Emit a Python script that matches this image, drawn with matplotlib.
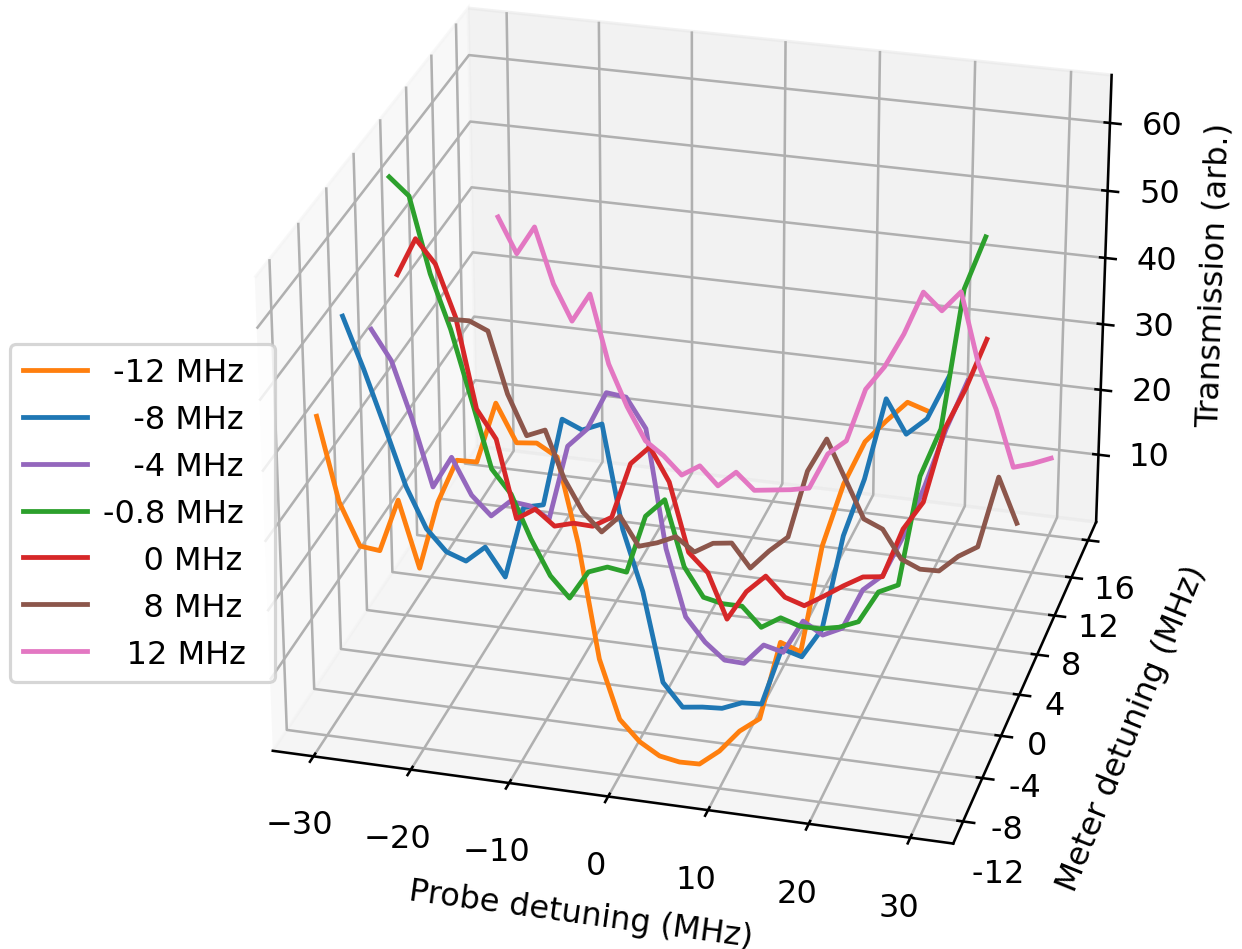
import numpy as np
import matplotlib
matplotlib.use('Agg')
import matplotlib.pyplot as plt

probe = np.arange(-30, 31, 2)

# transmission at each meter detuning
t_m12 = [45.8,34.0,28.0,27.7,35.3,25.9,35.7,42.0,42.1,50.7,45.5,45.8,44.2,32.3,16.1,7.7,4.8,3.1,2.6,2.7,5.0,8.3,10.5,21.9,20.9,36.3,45.3,51.5,54.7,57.6,56.7]
t_m8 = [54.6,47.4,39.5,31.3,25.5,22.5,21.5,23.9,19.9,30.4,31.1,43.7,42.5,43.7,29.0,20.3,7.4,4.1,4.5,4.7,5.9,6.1,14.6,13.8,18.2,32.0,40.4,52.0,47.4,49.9,56.0]
t_m4 = [47.5,43.3,35.2,25.6,30.3,25.1,22.4,24.9,24.6,23.0,34.0,36.8,42.4,42.1,37.9,20.8,11.1,7.7,5.4,5.3,8.4,7.7,12.7,11.0,12.4,18.4,20.9,27.0,34.5,43.0,50.1]
t_m08 = [65.2,62.8,52.0,44.3,34.5,24.5,21.1,14.8,9.6,6.6,10.9,12.0,11.6,20.3,23.1,13.5,9.3,8.7,8.7,5.9,7.7,6.8,6.8,7.4,8.6,13.4,14.8,31.1,38.3,58.5,66.1]
t_0 = [50.2,55.7,52.4,45.0,31.9,27.8,16.3,18.1,15.9,16.7,16.6,18.3,26.6,29.4,24.6,14.5,11.8,5.2,9.7,12.4,9.6,8.7,10.5,12.4,14.1,14.5,21.9,26.2,37.2,43.3,50.7]
t_8 = [33.3,33.4,32.2,23.0,17.0,18.2,11.1,6.3,3.6,6.4,2.1,3.0,4.3,2.3,4.0,4.4,0.9,3.9,6.4,16.8,22.0,16.3,10.6,9.4,5.2,4.0,4.1,6.7,8.5,19.4,12.8]
t_12 = [38.6,33.3,37.7,29.3,23.9,28.4,17.9,11.6,6.6,4.6,1.9,3.7,0.9,3.4,0.9,1.3,1.7,2.3,8.0,10.4,18.7,22.5,27.8,34.5,32.0,35.2,24.6,18.0,9.4,10.3,11.5]

series = [t_m12, t_m8, t_m4, t_m08, t_0, t_8, t_12]
meter_pos = [-12, -8, -4, -0.8, 0, 8, 16]
colors = ['tab:orange', 'tab:blue', 'tab:purple', 'tab:green', 'tab:red', 'tab:brown', 'tab:pink']
labels = [' -12 MHz \u2009', '   -8 MHz \u2009', '   -4 MHz \u2009', '-0.8 MHz \u2009', '    0 MHz \u2009', '    8 MHz \u2009', '  \u200a12 MHz \u2009']
meter_ticks = ['-12  ', '-8    ', '-4    ', '0     ', '4     ', '8     ', '12   ', '16   ']

fig = plt.figure(figsize=(1242/230, 950/230), dpi=230)
ax = fig.add_axes([0.1035, -0.0045, 0.8965, 1.12], projection='3d')
ax.view_init(elev=26.5, azim=-75)

for values, y0, c, lab in zip(series, meter_pos, colors, labels):
    ax.plot(probe, [y0]*len(probe), values, color=c, label=lab)

ax.set_xlim(-34.2, 34.2)
ax.set_ylim(-14, 18)
ax.set_zlim(-0.5, 67)
ax.set_xticks(np.arange(-30, 31, 10))
ax.set_yticks(np.arange(-12, 17, 4))
ax.set_yticklabels(meter_ticks)
ax.set_zticks(np.arange(10, 61, 10))
ax.set_xlabel('Probe detuning (MHz)')
ax.set_ylabel('     Meter detuning (MHz)')
ax.set_zlabel('Transmission (arb.)')
# mplot3d resets this angle on every draw
ax.yaxis.label.set_rotation(68)
ax.yaxis.label.set_rotation = lambda angle: None

fig.legend(loc='upper left', bbox_to_anchor=(10/1242, 1-345/950), borderaxespad=0, handletextpad=0.5)
fig.savefig('out.png', dpi=230)
